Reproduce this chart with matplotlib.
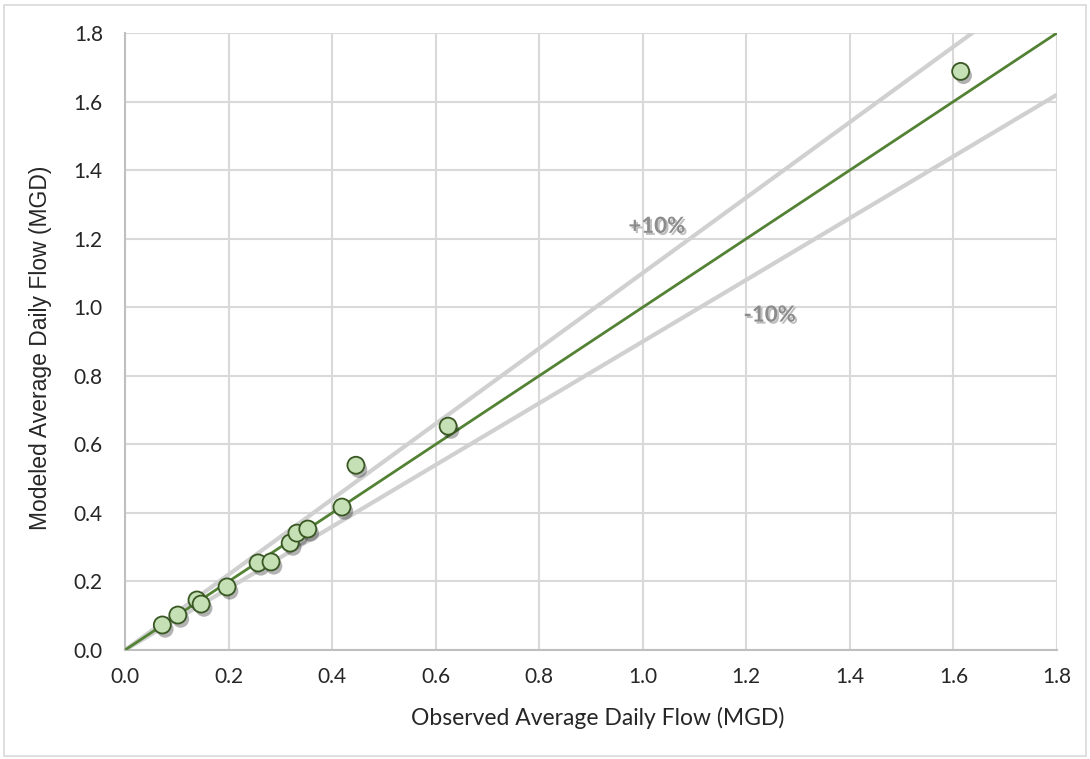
import numpy as np
import matplotlib
matplotlib.use("Agg")
import matplotlib.pyplot as plt
import matplotlib.patheffects as pe
from matplotlib.patches import Rectangle

# observed vs modeled average daily flow (MGD)
observed = [0.072, 0.102, 0.139, 0.147, 0.197, 0.257, 0.282, 0.319, 0.332,
            0.353, 0.419, 0.446, 0.624, 1.614]
modeled = [0.073, 0.102, 0.146, 0.134, 0.184, 0.254, 0.257, 0.312, 0.341,
           0.353, 0.417, 0.539, 0.653, 1.688]

ticks = [0.0, 0.2, 0.4, 0.6, 0.8, 1.0, 1.2, 1.4, 1.6, 1.8]
band = 0.10  # +/-10% envelope
band_labels = ["+10%", "-10%"]
band_label_pos = [(1.027, 1.236), (1.245, 0.977)]

plt.rcParams['font.family'] = ['Lato', 'DejaVu Sans']

fig = plt.figure(figsize=(10.9, 7.59), dpi=100)
ax = fig.add_axes([0.1147, 0.1436, 0.855, 0.8129])

# outer frame of the chart area
fig.patches.append(Rectangle((0.004, 0.004), 0.992, 0.99, transform=fig.transFigure,
                             fill=False, edgecolor='#d9d9d9', lw=1.2))

xx = np.array([0.0, 1.8])
shadow = [pe.SimplePatchShadow(offset=(1.5, -2.5), shadow_rgbFace='#000000', alpha=0.18),
          pe.Normal()]
for f in (1 + band, 1 - band):
    ax.plot(xx, f * xx, color='#d0d0d0', lw=3.0, zorder=2,
            solid_capstyle='butt', path_effects=shadow)

ax.plot(xx, xx, color='#548235', lw=2.0, zorder=3)

ax.scatter(observed, modeled, s=150, facecolor='#c5e0b4', edgecolor='#385723',
           linewidth=1.3, zorder=4,
           path_effects=[pe.SimplePatchShadow(offset=(2, -3), shadow_rgbFace='#000000', alpha=0.3),
                         pe.Normal()])

for lab, (x, y) in zip(band_labels, band_label_pos):
    ax.text(x, y, lab, ha='center', va='center', fontsize=16, fontweight='bold',
            color='#8c8c8c', zorder=5,
            path_effects=[pe.withSimplePatchShadow(offset=(1.5, -1.5), shadow_rgbFace='#000000',
                                                   alpha=0.25)])

ax.set_xlim(0, 1.8)
ax.set_ylim(0, 1.8)
ax.set_xticks(ticks)
ax.set_yticks(ticks)
ax.set_xticklabels([f"{t:.1f}" for t in ticks])
ax.set_yticklabels([f"{t:.1f}" for t in ticks])
ax.tick_params(length=0, labelsize=15, colors='#262626')
ax.tick_params(axis='x', pad=12)
ax.tick_params(axis='y', pad=16)
ax.grid(True, color='#d9d9d9', lw=1.5)
ax.set_axisbelow(True)
for s in ('top', 'right'):
    ax.spines[s].set_visible(False)
for s in ('left', 'bottom'):
    ax.spines[s].set_color('#bfbfbf')
    ax.spines[s].set_linewidth(1.5)

fig.text(0.5486, 0.054, "Observed Average Daily Flow (MGD)", ha='center', va='center',
         fontsize=16.5, color='#262626')
fig.text(0.0375, 0.542, "Modeled Average Daily Flow (MGD)", ha='center', va='center',
         rotation=90, fontsize=16.5, color='#262626', family=['Liberation Sans', 'DejaVu Sans'])

fig.savefig("out.png", dpi=100)
